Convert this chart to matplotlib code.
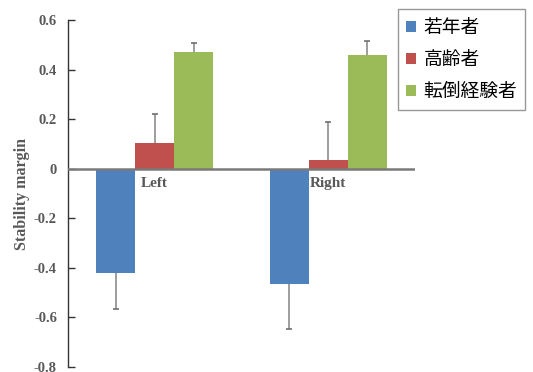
import numpy as np
import matplotlib
matplotlib.use("Agg")
import matplotlib.pyplot as plt

# Stability margin by side and group (mean, SD)
sides = ["Left", "Right"]
groups = ["若年者", "高齢者", "転倒経験者"]
young = [-0.42, -0.464]
elderly = [0.102, 0.035]
fallers = [0.469, 0.457]
young_sd = [0.148, 0.183]
elderly_sd = [0.118, 0.155]
fallers_sd = [0.039, 0.059]
yticks = [0.6, 0.4, 0.2, 0, -0.2, -0.4, -0.6, -0.8]
ytick_labels = ["0.6", "0.4", "0.2", "0", "-0.2", "-0.4", "-0.6", "-0.8"]

colors = ["#4F81BD", "#C0504D", "#9BBB59"]
serif = ["Liberation Serif", "DejaVu Serif"]
cjk = ["Noto Sans CJK JP", "DejaVu Sans"]

fig = plt.figure(figsize=(5.33, 3.72), dpi=100)
ax = fig.add_axes([68 / 533, 1 - 367 / 372, (415 - 68) / 533, (367 - 20) / 372])

x = np.arange(len(sides))
width = 0.224
series = [young, elderly, fallers]
sds = [young_sd, elderly_sd, fallers_sd]
handles = []
for i, (vals, sd, c, name) in enumerate(zip(series, sds, colors, groups)):
    pos = x + (i - 1) * width
    h = ax.bar(pos, vals, width, color=c, label=name, zorder=2)
    handles.append(h)
    # one-sided error bars, pointing away from zero
    vals_a = np.array(vals)
    sd_a = np.array(sd)
    tips = vals_a + np.sign(vals_a) * sd_a
    ax.vlines(pos, vals_a, tips, color="#8c8c8c", lw=1.2, zorder=3)
    ax.plot(pos, tips, ls="none", marker="_", ms=5, mew=1.2,
            color="#6f6f6f", zorder=3)

ax.axhline(0, color="#7a7a7a", lw=1.8, zorder=4)

ax.set_xlim(-0.5, 1.5)
ax.set_ylim(-0.8, 0.6)
ax.set_yticks(yticks)
ax.set_yticklabels(ytick_labels, fontfamily=serif, fontweight="bold",
                   fontsize=10.5, color="#595959")
ax.tick_params(axis="y", direction="in", length=5, width=1, color="#333333", pad=8)
ax.set_xticks([])
for s in ["top", "right", "bottom"]:
    ax.spines[s].set_visible(False)
ax.spines["left"].set_color("#333333")
ax.spines["left"].set_linewidth(1)

for xi, name in zip(x, sides):
    ax.annotate(name, (xi, 0), xytext=(0, -6), textcoords="offset points",
                ha="center", va="top", fontfamily=serif, fontweight="bold",
                fontsize=11, color="#595959")

ax.set_ylabel("Stability margin", fontfamily=serif, fontweight="bold",
              fontsize=11.5, color="#595959", labelpad=3)

leg = fig.legend(handles=handles, labels=groups, loc="upper right",
                 bbox_to_anchor=(525 / 533, 1 - 9 / 372),
                 bbox_transform=fig.transFigure,
                 prop={"family": cjk, "size": 13.5}, frameon=True, fancybox=False,
                 edgecolor="#7f7f7f", handlelength=0.55, handleheight=0.55,
                 handletextpad=0.4, labelspacing=0.6, borderpad=0.42,
                 borderaxespad=0)
leg.get_frame().set_linewidth(1)

fig.savefig("out.png", dpi=100)
